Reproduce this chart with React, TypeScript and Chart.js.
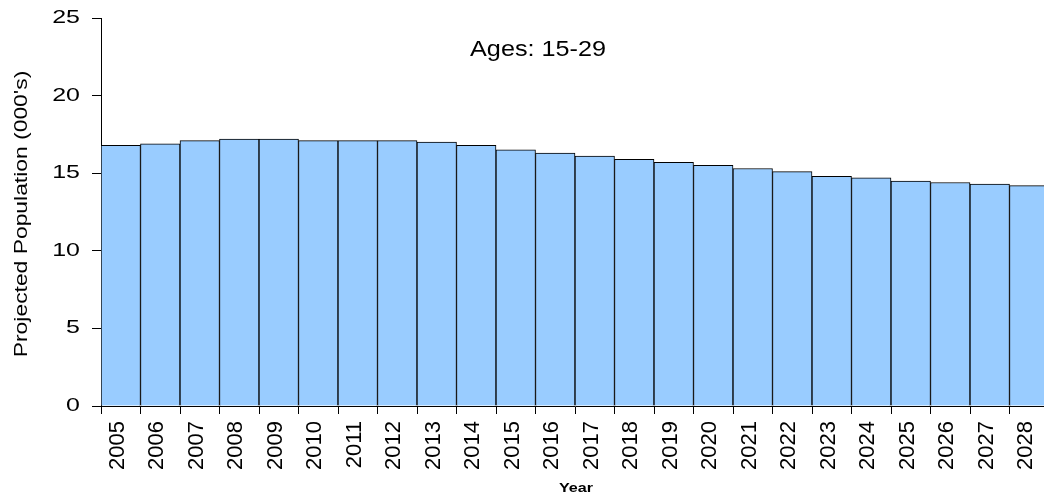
import React, { useEffect, useRef } from "react";
import { Chart, registerables } from "chart.js";

Chart.register(...registerables);

const years: string[] = [
  "2005", "2006", "2007", "2008", "2009", "2010", "2011", "2012",
  "2013", "2014", "2015", "2016", "2017", "2018", "2019", "2020",
  "2021", "2022", "2023", "2024", "2025", "2026", "2027", "2028",
];

const population: number[] = [
  16.8, 16.9, 17.1, 17.2, 17.2, 17.1, 17.1, 17.1,
  17.0, 16.8, 16.5, 16.3, 16.1, 15.9, 15.7, 15.5,
  15.3, 15.1, 14.8, 14.7, 14.5, 14.4, 14.3, 14.2,
];

const yTickValues: number[] = [0, 5, 10, 15, 20, 25];

const chartTitle = "Ages: 15-29";
const xTitle = "Year";
const yTitle = "Projected Population (000's)";

const FONT = "'Liberation Sans', Arial, sans-serif";

const textPlugin = {
  id: "stretchedText",
  afterDraw(chart: any) {
    const ctx: CanvasRenderingContext2D = chart.ctx;
    const xs = chart.scales.x;
    const ys = chart.scales.y;
    const area = chart.chartArea;
    ctx.save();
    ctx.fillStyle = "#000";

    // y tick labels (horizontally stretched)
    ctx.font = `18.5px ${FONT}`;
    ctx.textAlign = "right";
    ctx.textBaseline = "middle";
    for (const v of yTickValues) {
      const py = ys.getPixelForValue(v);
      ctx.save();
      ctx.translate(area.left - 21, py);
      ctx.scale(1.35, 1);
      ctx.fillText(String(v), 0, 0);
      ctx.restore();
    }

    // x tick labels rotated
    ctx.font = `22px ${FONT}`;
    ctx.textAlign = "right";
    ctx.textBaseline = "middle";
    years.forEach((label, i) => {
      const px = xs.getPixelForTick(i);
      ctx.save();
      ctx.translate(px - 3, area.bottom + 15);
      ctx.rotate(-Math.PI / 2);
      ctx.fillText(label, 0, 0);
      ctx.restore();
    });

    // x axis title
    ctx.font = `bold 13px ${FONT}`;
    ctx.textAlign = "center";
    ctx.textBaseline = "alphabetic";
    ctx.save();
    ctx.translate((area.left + area.right) / 2 + 1, 491.5);
    ctx.scale(1.24, 1);
    ctx.fillText(xTitle, 0, 0);
    ctx.restore();

    // y axis title
    ctx.font = `18px ${FONT}`;
    ctx.textAlign = "center";
    ctx.textBaseline = "alphabetic";
    ctx.save();
    ctx.translate(27, (area.top + area.bottom) / 2 + 2);
    ctx.rotate(-Math.PI / 2);
    ctx.scale(1.27, 1);
    ctx.fillText(yTitle, 0, 0);
    ctx.restore();

    // chart title inside plot
    ctx.font = `22.5px ${FONT}`;
    ctx.textAlign = "center";
    ctx.textBaseline = "alphabetic";
    ctx.save();
    ctx.translate(538, 56);
    ctx.scale(1.12, 1);
    ctx.fillText(chartTitle, 0, 0);
    ctx.restore();

    ctx.restore();
  },
};

export default function App() {
  const canvasRef = useRef<HTMLCanvasElement | null>(null);

  useEffect(() => {
    if (!canvasRef.current) return;
    const chart = new Chart(canvasRef.current, {
      type: "bar",
      data: {
        labels: years,
        datasets: [
          {
            data: population,
            backgroundColor: "#99CCFF",
            borderColor: "#000000",
            borderWidth: 1,
            barPercentage: 1,
            categoryPercentage: 1,
          },
        ],
      },
      options: {
        animation: false,
        responsive: true,
        maintainAspectRatio: false,
        layout: { padding: { top: 18, left: 0, right: 0, bottom: 0 } },
        plugins: {
          legend: { display: false },
          tooltip: { enabled: false },
          title: { display: false },
        },
        scales: {
          x: {
            type: "category",
            offset: true,
            grid: {
              display: true,
              offset: true,
              drawOnChartArea: false,
              drawTicks: true,
              tickLength: 8,
              color: "#000000",
            },
            border: { display: true, color: "#000000", width: 1 },
            ticks: { display: false },
            afterFit: (scale: any) => {
              scale.height = 92;
            },
          },
          y: {
            min: 0,
            max: 25,
            ticks: { display: false, stepSize: 5 },
            grid: {
              display: true,
              drawOnChartArea: false,
              drawTicks: true,
              tickLength: 9,
              color: "#000000",
            },
            border: { display: true, color: "#000000", width: 1 },
            afterFit: (scale: any) => {
              scale.width = 101;
            },
          },
        },
      },
      plugins: [textPlugin],
    });
    return () => chart.destroy();
  }, []);

  return (
    <div
      style={{
        position: "fixed",
        left: 0,
        top: 0,
        width: 1049,
        height: 498,
        background: "#ffffff",
      }}
    >
      <canvas ref={canvasRef} />
    </div>
  );
}
